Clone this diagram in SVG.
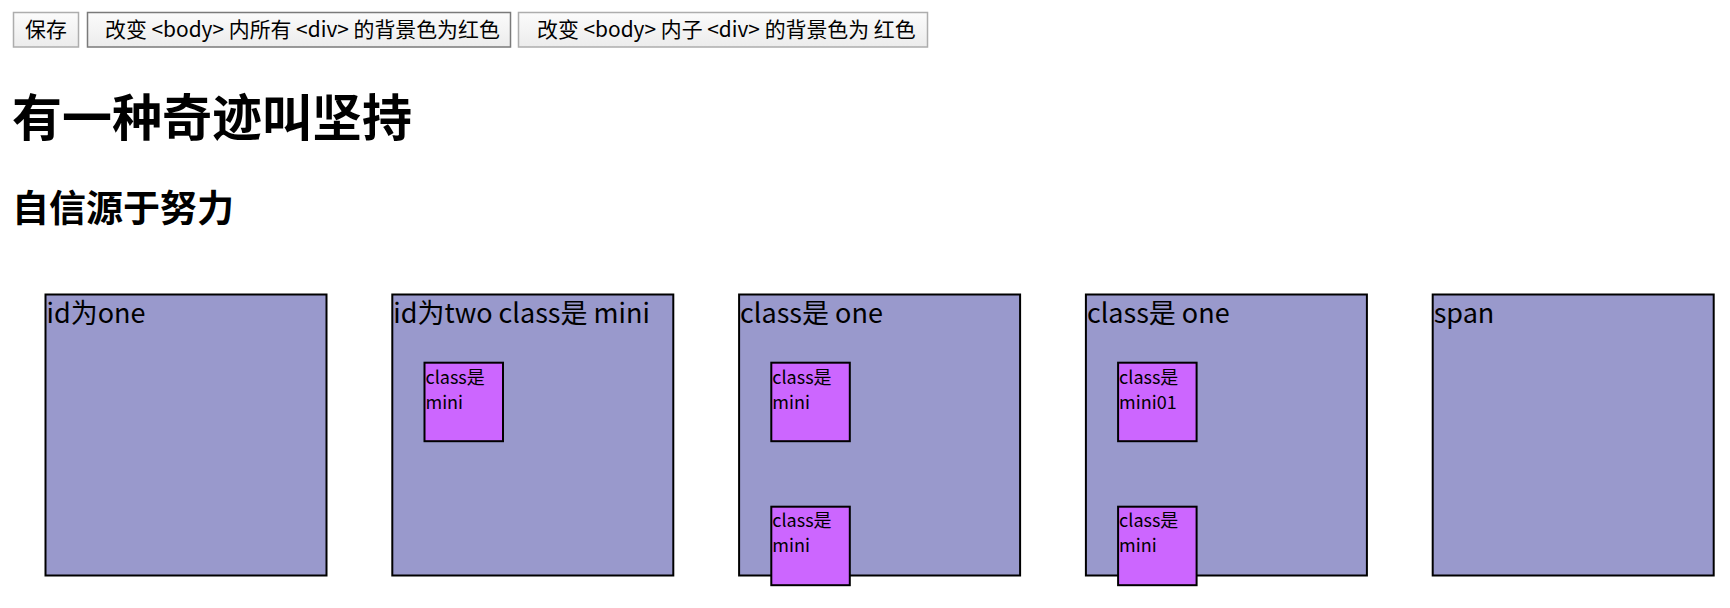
<svg xmlns="http://www.w3.org/2000/svg" width="1730" height="608" viewBox="0 0 1730 608">
<defs>
<linearGradient id="btnGrad" x1="0" y1="0" x2="0" y2="1">
<stop offset="0" stop-color="#fbfbfb"/>
<stop offset="1" stop-color="#ececec"/>
</linearGradient>
<style>
text{font-family:"Noto Sans CJK SC","Noto Sans",sans-serif;fill:#000}
.btn{fill:url(#btnGrad);stroke:#adadad;stroke-width:1.5}
.btn.focus{stroke:#7a7a7a}
.btnt{font-size:20.9px}
.h1{font-size:50px;font-weight:bold}
.h2{font-size:37px;font-weight:bold}
.box{fill:#9999cc;stroke:#000;stroke-width:2}
.mini{fill:#cc66ff;stroke:#000;stroke-width:2}
.bt{font-size:27px}
.mt{font-size:18px}
</style>
</defs>
<rect width="1730" height="608" fill="#fff"/>
<g id="btn-save">
<rect class="btn" x="13.5" y="12.5" width="65" height="34.5"/>
<text class="btnt" x="25" y="37">保存</text>
</g>
<g id="btn-all-div">
<rect class="btn focus" x="87.5" y="12.5" width="423" height="34.5"/>
<text class="btnt" x="105" y="37">改变 &lt;body&gt; 内所有 &lt;div&gt; 的背景色为红色</text>
</g>
<g id="btn-child-div">
<rect class="btn" x="518.5" y="12.5" width="409" height="34.5"/>
<text class="btnt" x="537" y="37">改变 &lt;body&gt; 内子 &lt;div&gt; 的背景色为 红色</text>
</g>
<g id="heading1">
<text class="h1" x="12" y="136">有一种奇迹叫坚持</text>
</g>
<g id="heading2">
<text class="h2" x="12" y="222">自信源于努力</text>
</g>
<g id="box-one">
<rect class="box" x="45.5" y="294.5" width="281" height="281"/>
<text class="bt" x="46.5" y="323">id为one</text>
</g>
<g id="box-two">
<rect class="box" x="392.3" y="294.5" width="281" height="281"/>
<text class="bt" x="393.3" y="323">id为two class是 mini</text>
<g id="box-two-mini">
<rect class="mini" x="424.5" y="362.7" width="78.5" height="78.5"/>
<text class="mt" x="425.5" y="384">class是</text>
<text class="mt" x="425.5" y="408.5">mini</text>
</g>
</g>
<g id="box-class-one-a">
<rect class="box" x="739.1" y="294.5" width="281" height="281"/>
<text class="bt" x="740.1" y="323">class是 one</text>
<g id="box-class-one-a-mini1">
<rect class="mini" x="771.3" y="362.7" width="78.5" height="78.5"/>
<text class="mt" x="772.3" y="384">class是</text>
<text class="mt" x="772.3" y="408.5">mini</text>
</g>
<g id="box-class-one-a-mini2">
<rect class="mini" x="771.3" y="506.7" width="78.5" height="78.5"/>
<text class="mt" x="772.3" y="527">class是</text>
<text class="mt" x="772.3" y="551.5">mini</text>
</g>
</g>
<g id="box-class-one-b">
<rect class="box" x="1085.9" y="294.5" width="281" height="281"/>
<text class="bt" x="1086.9" y="323">class是 one</text>
<g id="box-class-one-b-mini1">
<rect class="mini" x="1118.1" y="362.7" width="78.5" height="78.5"/>
<text class="mt" x="1119.1" y="384">class是</text>
<text class="mt" x="1119.1" y="408.5">mini01</text>
</g>
<g id="box-class-one-b-mini2">
<rect class="mini" x="1118.1" y="506.7" width="78.5" height="78.5"/>
<text class="mt" x="1119.1" y="527">class是</text>
<text class="mt" x="1119.1" y="551.5">mini</text>
</g>
</g>
<g id="box-span">
<rect class="box" x="1432.7" y="294.5" width="281" height="281"/>
<text class="bt" x="1433.7" y="323">span</text>
</g>
<g id="connectors"/>
</svg>
